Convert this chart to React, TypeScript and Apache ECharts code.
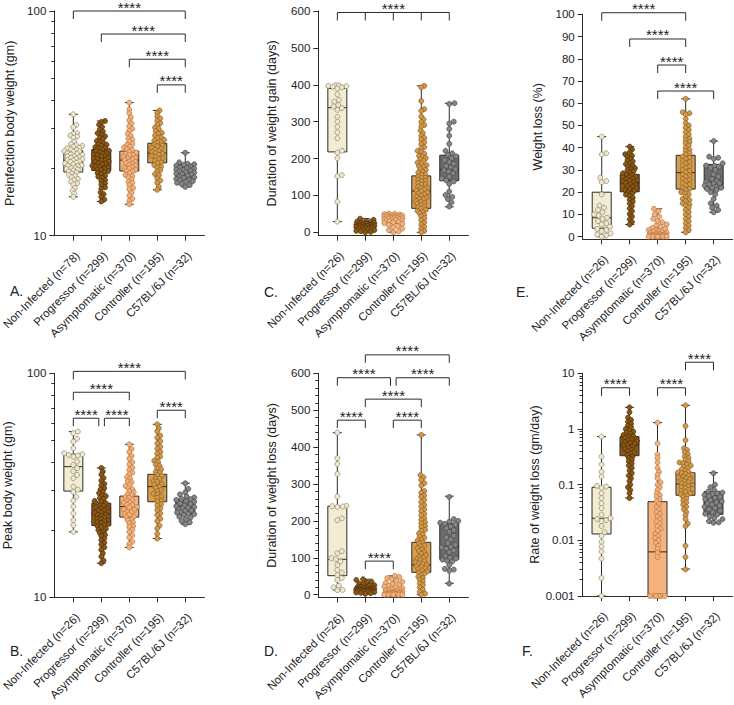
import React, { useEffect, useRef } from 'react';
import * as echarts from 'echarts';

const FONT = '"Liberation Sans", Arial, Helvetica, sans-serif';

// ---------- categories ----------
const categories = ['Non-Infected', 'Progressor', 'Asymptomatic', 'Controller', 'C57BL/6J'];
const countsPreinfection = [78, 299, 370, 195, 32];
const countsOther = [26, 299, 370, 195, 32];

// ---------- tick values ----------
const logMajor10to100 = [10, 100];
const logMinor10to100 = [20, 30, 40, 50, 60, 70, 80, 90];
const logMajorRate = [0.001, 0.01, 0.1, 1, 10];
const logMinorRate = [0.002, 0.003, 0.004, 0.005, 0.006, 0.007, 0.008, 0.009, 0.02, 0.03, 0.04, 0.05, 0.06, 0.07, 0.08, 0.09, 0.2, 0.3, 0.4, 0.5, 0.6, 0.7, 0.8, 0.9, 2, 3, 4, 5, 6, 7, 8, 9];
const daysMajor = [0, 100, 200, 300, 400, 500, 600];
const daysMinor = [20, 40, 60, 80, 120, 140, 160, 180, 220, 240, 260, 280, 320, 340, 360, 380, 420, 440, 460, 480, 520, 540, 560, 580];
const percentMajor = [0, 10, 20, 30, 40, 50, 60, 70, 80, 90, 100];

// ---------- box statistics [min, q1, median, q3, max] ----------
const boxPreinfection = [[14.9, 19.2, 21.7, 23.9, 34.7], [14.2, 19.5, 21.9, 24.2, 32.4], [13.8, 19.4, 21.7, 23.8, 39.1], [16.0, 21.1, 23.3, 25.8, 36.1], [16.5, 17.7, 19.2, 20.8, 23.4]];
const boxGainDuration = [[29, 218, 338, 390, 399], [0, 9, 16, 24, 37], [0, 24, 37, 46, 51], [0, 65, 112, 153, 397], [69, 140, 170, 209, 350]];
const boxWeightLoss = [[0, 3.8, 8.5, 20, 45], [5.5, 20.2, 24.3, 28, 40.5], [0, 0, 0.5, 2, 12.5], [2, 21.4, 28.8, 36.6, 62], [11, 21.5, 24.1, 32.5, 43]];
const boxPeak = [[19.6, 29.8, 38.3, 43.5, 54.9], [14.2, 20.9, 23.7, 26.3, 37.8], [16.7, 22.8, 25.4, 28.3, 48.2], [18.3, 26.7, 31.2, 35.4, 59.2], [21.2, 23.5, 25.1, 27.4, 32.3]];
const boxLossDuration = [[12.7, 51.5, 96, 240, 439], [2, 8, 12, 18, 42], [0, 0, 3, 12, 51], [0, 60.6, 80.5, 142, 433], [31, 96, 130, 193.5, 267]];
const boxLossRate = [[0.001, 0.013, 0.0249, 0.0896, 0.728], [0.0575, 0.331, 0.515, 0.728, 2.45], [0.001, 0.001, 0.0062, 0.0494, 1.3], [0.00305, 0.0644, 0.1027, 0.164, 2.66], [0.0207, 0.0293, 0.046, 0.0748, 0.164]];

// ---------- individual points (read/estimated) ----------
// A. Preinfection body weight (gm)
const aNonInfected = [34.7, 31.1, 30.4, 28.6, 28.4, 27.9, 27.6, 27.3, 26.2, 25.6, 25.3, 25.1, 24.9, 24.6, 24.5, 24.2, 24.1, 23.8, 23.7, 23.6, 23.3, 23.1, 23, 22.9, 22.6, 22.5, 22.4, 22.2, 22, 21.9, 21.7, 21.6, 21.4, 21.3, 21.1, 21, 20.8, 20.6, 20.5, 20.4, 20.1, 20, 19.8, 19.7, 19.5, 19.3, 19.1, 18.9, 18.6, 18.5, 18.2, 17.9, 17.7, 17.4, 17.1, 16.9, 16.3, 15.9, 15.4, 14.9];
const aProgressor = [32.4, 32.1, 31.2, 30.5, 29.7, 29.1, 28.6, 28.2, 27.7, 27.3, 26.9, 26.4, 26.2, 25.8, 25.5, 25.4, 25.1, 24.8, 24.6, 24.4, 24.2, 23.9, 23.8, 23.6, 23.3, 23.2, 22.9, 22.8, 22.6, 22.5, 22.2, 22.1, 21.9, 21.7, 21.6, 21.4, 21.3, 21, 20.9, 20.8, 20.5, 20.4, 20.2, 20.1, 19.9, 19.7, 19.6, 19.4, 19.2, 19, 18.8, 18.5, 18.3, 18.1, 17.7, 17.5, 17.1, 16.9, 16.4, 16.2, 15.6, 15.3, 14.9, 14.5, 14.2];
const aAsymptomatic = [39.1, 36.4, 35.1, 33.6, 32.6, 31.6, 30.7, 29.9, 29.3, 28.4, 27.8, 27.1, 26.7, 26.2, 25.6, 25.4, 24.9, 24.7, 24.3, 24.1, 23.6, 23.4, 23.1, 22.9, 22.8, 22.4, 22.2, 22.1, 21.8, 21.7, 21.4, 21.3, 21, 20.9, 20.6, 20.5, 20.2, 20, 19.9, 19.6, 19.4, 19.3, 19, 18.6, 18.4, 18.2, 17.8, 17.4, 17.2, 16.8, 16.3, 16.1, 15.5, 15.1, 14.6, 14.3, 13.8];
const aController = [36.1, 35.2, 33.9, 33.3, 32.5, 31.7, 31.1, 30.3, 29.9, 29.2, 28.7, 28.4, 27.9, 27.4, 27.2, 26.7, 26.5, 26.1, 25.9, 25.4, 25.2, 25, 24.6, 24.4, 24.1, 23.8, 23.6, 23.3, 23.1, 22.9, 22.6, 22.4, 22.1, 21.9, 21.6, 21.2, 21, 20.6, 20.3, 20.1, 19.6, 19.3, 18.8, 18.6, 18, 17.6, 17.2, 16.5, 16];
const aC57 = [23.4, 21.2, 20.9, 20.8, 20.7, 20.5, 20.3, 20.1, 20, 19.9, 19.7, 19.6, 19.5, 19.3, 19.2, 19.1, 18.9, 18.8, 18.7, 18.5, 18.3, 18.2, 18.1, 17.9, 17.8, 17.7, 17.5, 17.4, 17.2, 17, 16.8, 16.5];

// C. Duration of weight gain (days)
const cNonInfected = [399, 398, 397, 396, 395, 393, 390, 374, 359, 354, 345, 341, 337, 332, 313, 300, 286, 271, 255, 221, 216, 201, 155, 152, 83, 29];
const cProgressor = [37, 34, 31, 29, 28, 26, 25, 24, 23, 22, 21, 20, 20, 19, 18, 18, 17, 17, 16, 15, 15, 14, 13, 12, 12, 11, 10, 9, 8, 7, 6, 4, 3, 1, 0];
const cAsymptomatic = [51, 50, 49, 48, 47, 46, 45, 45, 44, 43, 43, 42, 41, 40, 40, 39, 38, 38, 37, 36, 35, 34, 33, 32, 31, 30, 28, 27, 25, 23, 20, 17, 14, 10, 6, 2, 0];
const cController = [397, 393, 356, 334, 329, 314, 306, 299, 291, 287, 276, 269, 261, 256, 251, 244, 239, 231, 227, 221, 218, 213, 207, 205, 201, 198, 194, 189, 187, 182, 179, 177, 171, 169, 164, 162, 157, 156, 151, 148, 147, 142, 139, 138, 133, 130, 129, 124, 121, 120, 116, 113, 111, 108, 105, 103, 99, 97, 94, 91, 90, 85, 83, 79, 77, 74, 70, 68, 64, 61, 58, 55, 51, 47, 43, 38, 33, 27, 21, 15, 9, 4, 0];
const cC57 = [350, 348, 300, 295, 280, 262, 240, 221, 214, 210, 206, 201, 196, 190, 186, 180, 176, 171, 168, 165, 160, 151, 146, 141, 138, 131, 111, 101, 96, 90, 81, 70];

// E. Weight loss (%)
const eNonInfected = [45, 37.5, 37, 26.5, 25, 24.5, 19, 14, 13, 12, 11, 10, 9.5, 8.5, 8, 7, 6, 5.5, 4.5, 3.5, 3, 2.5, 1.5, 1, 0.5, 0];
const eProgressor = [40.5, 39.2, 38, 37.1, 36.4, 35.8, 35, 34.3, 33.9, 33, 32.6, 31.9, 31.4, 30.8, 30.5, 29.9, 29.4, 28.8, 28.5, 27.9, 27.6, 27.1, 26.7, 26.1, 25.8, 25.2, 24.9, 24.4, 24.1, 23.6, 23.3, 22.7, 22.4, 21.8, 21.5, 20.9, 20.6, 20, 19.4, 18.9, 18.3, 17.5, 16.6, 15.8, 14.9, 13.8, 12.7, 11.5, 10.2, 9.1, 7.8, 6.6, 5.5];
const eAsymptomatic = [12.5, 11.5, 10, 9, 8, 7, 6.5, 5.5, 5, 4.5, 4, 3.5, 3, 2.8, 2.5, 2.2, 2, 1.8, 1.6, 1.4, 1.2, 1, 1, 0.8, 0.8, 0.6, 0.6, 0.5, 0.4, 0.4, 0.3, 0.2, 0.2, 0.1, 0.1, 0, 0, 0, 0, 0];
const eController = [62, 56, 55.5, 55, 53, 51, 50, 49, 48, 47, 46, 45, 44, 43.5, 42.5, 42, 41, 40, 39, 38.5, 37.5, 37, 36, 35.5, 35, 34, 33.5, 33, 32, 31.5, 31, 30, 29.5, 29, 28, 27.5, 27, 26, 25.5, 25, 24, 23.5, 23, 22, 21.5, 21, 20, 19.5, 19, 18, 17, 16.5, 16, 15, 14.5, 14, 13, 12, 11, 10, 9, 8, 7, 6, 5, 4, 3, 2];
const eC57 = [43, 36, 35.5, 35, 33, 32, 32, 31.5, 31, 30, 28, 27, 26, 25, 24.5, 24, 24, 23.5, 23, 22.5, 22, 22, 21.5, 21, 20, 19, 17, 15, 14, 13, 12, 11];

// B. Peak body weight (gm)
const bNonInfected = [54.9, 54, 51, 49.5, 46.3, 44, 43.5, 43.2, 43, 42.5, 40.3, 39, 37.7, 36.5, 35.2, 34, 31.2, 30.2, 29.5, 28.1, 27, 25.4, 23.7, 22.1, 21, 19.6];
const bProgressor = [37.8, 36.4, 35.3, 34.1, 33.2, 32.1, 31.6, 30.7, 30.3, 29.5, 29.2, 28.5, 28.3, 27.7, 27.5, 26.9, 26.8, 26.3, 26.1, 25.7, 25.6, 25.2, 25, 24.9, 24.5, 24.4, 24.1, 23.9, 23.8, 23.4, 23.3, 23.1, 22.8, 22.7, 22.4, 22.3, 22, 21.9, 21.6, 21.5, 21.2, 21.1, 20.8, 20.6, 20.2, 20, 19.6, 19.4, 19, 18.8, 18.3, 18, 17.5, 17.2, 16.7, 16.3, 15.7, 15.2, 14.6, 14.2];
const bAsymptomatic = [48.2, 45.9, 44.6, 42.8, 41.6, 40.1, 39.2, 37.9, 37.1, 36, 35.4, 34.4, 33.9, 33, 32.6, 31.8, 31.4, 30.7, 30.4, 29.7, 29.4, 28.8, 28.6, 28, 27.8, 27.2, 27, 26.5, 26.4, 25.9, 25.8, 25.3, 25.2, 24.7, 24.6, 24.1, 24, 23.5, 23.4, 22.9, 22.8, 22.3, 22.1, 21.6, 21.4, 20.8, 20.6, 20, 19.6, 18.9, 18.5, 17.7, 17.3, 16.7];
const bController = [59.2, 56.8, 55.1, 52.7, 51.6, 49.8, 48.6, 47, 46.1, 44.6, 43.8, 42.5, 41.9, 40.7, 40.2, 39.1, 38.6, 37.6, 37.2, 36.3, 36, 35.1, 34.8, 34, 33.8, 33, 32.8, 32, 31.8, 31.1, 30.8, 30.1, 29.8, 29, 28.8, 28.1, 27.8, 27, 26.8, 26, 25.7, 24.9, 24.5, 23.7, 23.3, 22.4, 21.9, 20.9, 20.3, 19.2, 18.3];
const bC57 = [32.3, 30.5, 29.4, 28.8, 28.1, 27.9, 27.5, 27.4, 27.2, 26.9, 26.7, 26.3, 26.1, 25.7, 25.5, 25.3, 25.1, 24.9, 24.7, 24.4, 24.3, 24, 23.9, 23.6, 23.5, 23.3, 22.9, 22.7, 22.3, 21.9, 21.6, 21.2];

// D. Duration of weight loss (days)
const dNonInfected = [439, 370, 354, 327, 266, 241, 240, 239, 238, 207, 202, 118, 112, 99, 96, 90, 80, 67, 60, 53, 45, 40, 24, 20, 13, 12];
const dProgressor = [42, 40, 36, 33, 30, 28, 26, 24, 22, 21, 20, 19, 18, 17, 16, 16, 15, 15, 14, 14, 13, 13, 12, 12, 12, 11, 11, 11, 10, 10, 10, 9, 9, 8, 8, 7, 6, 5, 4, 2];
const dAsymptomatic = [51, 48, 45, 42, 38, 35, 32, 29, 26, 24, 22, 20, 18, 16, 14, 12, 11, 10, 9, 8, 7, 6, 5, 5, 4, 4, 3, 3, 3, 2, 2, 2, 1, 1, 1, 0, 0, 0, 0, 0];
const dController = [433, 324, 318, 311, 302, 296, 281, 276, 269, 265, 257, 251, 243, 239, 231, 227, 219, 215, 207, 203, 196, 193, 186, 183, 176, 173, 166, 163, 157, 154, 149, 147, 141, 139, 133, 131, 126, 123, 118, 115, 111, 107, 103, 100, 97, 94, 91, 88, 85, 83, 80, 77, 75, 72, 69, 66, 63, 60, 57, 53, 49, 45, 41, 36, 31, 26, 20, 14, 8, 3, 0];
const dC57 = [265, 205, 200, 198, 195, 192, 190, 185, 180, 175, 170, 160, 155, 150, 140, 135, 130, 128, 125, 120, 115, 105, 100, 98, 95, 92, 90, 80, 70, 68, 65, 30];

// F. Rate of weight loss (gm/day)
const fNonInfected = [0.73, 0.32, 0.23, 0.17, 0.14, 0.095, 0.092, 0.088, 0.07, 0.057, 0.046, 0.038, 0.029, 0.025, 0.024, 0.023, 0.022, 0.018, 0.014, 0.012, 0.0094, 0.0077, 0.0063, 0.0047, 0.0021, 0.001];
const fProgressor = [2.45, 2.0, 1.6, 1.45, 1.35, 1.25, 1.15, 1.08, 1.0, 0.95, 0.9, 0.86, 0.82, 0.78, 0.75, 0.72, 0.69, 0.66, 0.63, 0.6, 0.58, 0.56, 0.54, 0.52, 0.5, 0.48, 0.46, 0.44, 0.42, 0.4, 0.38, 0.36, 0.34, 0.32, 0.3, 0.28, 0.26, 0.24, 0.22, 0.2, 0.18, 0.16, 0.145, 0.13, 0.115, 0.1, 0.09, 0.08, 0.07, 0.0575];
const fAsymptomatic = [1.3, 0.55, 0.35, 0.3, 0.25, 0.2, 0.17, 0.15, 0.13, 0.11, 0.1, 0.09, 0.08, 0.07, 0.065, 0.06, 0.055, 0.05, 0.045, 0.04, 0.036, 0.032, 0.03, 0.027, 0.024, 0.022, 0.02, 0.018, 0.016, 0.015, 0.013, 0.012, 0.011, 0.01, 0.009, 0.008, 0.007, 0.006, 0.005, 0.001, 0.001, 0.001, 0.001, 0.001, 0.001, 0.001];
const fController = [2.66, 1.13, 0.63, 0.45, 0.42, 0.38, 0.35, 0.32, 0.3, 0.28, 0.26, 0.25, 0.24, 0.23, 0.22, 0.21, 0.2, 0.19, 0.18, 0.17, 0.165, 0.16, 0.155, 0.15, 0.145, 0.14, 0.135, 0.13, 0.125, 0.12, 0.115, 0.11, 0.105, 0.1, 0.097, 0.094, 0.09, 0.087, 0.084, 0.08, 0.077, 0.074, 0.07, 0.067, 0.064, 0.06, 0.056, 0.052, 0.048, 0.044, 0.04, 0.036, 0.032, 0.028, 0.024, 0.02, 0.018, 0.008, 0.005, 0.003];
const fC57 = [0.16, 0.1, 0.09, 0.08, 0.075, 0.072, 0.07, 0.068, 0.065, 0.062, 0.06, 0.058, 0.055, 0.052, 0.05, 0.048, 0.046, 0.044, 0.042, 0.04, 0.038, 0.036, 0.034, 0.032, 0.03, 0.029, 0.027, 0.025, 0.024, 0.022, 0.021, 0.0207];

// ---------- significance brackets [fromCat, toCat, level, ticksAtEveryCategory] ----------
const bracketsA = [[0, 4, 100, 0], [1, 4, 79, 0], [2, 4, 61, 0], [3, 4, 46.9, 0]];
const bracketsC = [[0, 4, 596, 1]];
const bracketsE = [[0, 3, 100.7, 0], [1, 3, 88.9, 0], [2, 3, 77.2, 0], [2, 4, 65.5, 0]];
const bracketsB = [[0, 4, 102, 0], [0, 2, 82.3, 0], [0, 0.91, 63, 0], [1.11, 2, 63, 0], [3, 4, 68.4, 0]];
const bracketsD = [[1, 4, 650, 0], [0, 1.9, 588, 0], [2.1, 4, 588, 0], [1, 3, 530, 0], [0, 1, 473, 0], [2, 3, 473, 0], [1, 2, 91, 0]];
const bracketsF = [[0, 1, 5.5, 0], [2, 3, 5.5, 0], [3, 4, 15.8, 0]];

// ---------- styles ----------
const boxFill = ['#F2ECD3', '#8E5916', '#F4B37C', '#D69E4E', '#6C6C6C'];
const ptFill = ['#EFE8CE', '#8A5716', '#F2B07A', '#D1984A', '#858585'];
const ptStroke = ['#8E8870', '#4A2E08', '#B57640', '#8A5E22', '#474747'];
const INK = '#2b2b2b';

const X_MIN = -0.68;
const X_MAX = 4.68;
const GRID_W = 150;
const PX_PER_X = GRID_W / (X_MAX - X_MIN);
const LABEL_SHIFT = 0.15;

type Panel = {
  letter: string; lx: number; ly: number;
  left: number; top: number; height: number;
  log: boolean; yMin: number; yMax: number;
  title: string; nameGap: number;
  counts: number[]; box: number[][]; points: number[][]; brackets: number[][];
  major: number[]; minor: number[];
};

const panels: Panel[] = [
  { letter: 'A.', lx: 10, ly: 284, left: 54.3, top: 11, height: 224.7, log: true, yMin: 10, yMax: 100,
    title: 'Preinfection body weight (gm)', nameGap: 38, counts: countsPreinfection, box: boxPreinfection,
    points: [aNonInfected, aProgressor, aAsymptomatic, aController, aC57], brackets: bracketsA,
    major: logMajor10to100, minor: logMinor10to100 },
  { letter: 'C.', lx: 264, ly: 285, left: 318.3, top: 11, height: 224.7, log: false, yMin: -9.2, yMax: 600,
    title: 'Duration of weight gain (days)', nameGap: 40, counts: countsOther, box: boxGainDuration,
    points: [cNonInfected, cProgressor, cAsymptomatic, cController, cC57], brackets: bracketsC,
    major: daysMajor, minor: [] },
  { letter: 'E.', lx: 516, ly: 285, left: 582.7, top: 14.3, height: 225, log: false, yMin: -1.17, yMax: 100,
    title: 'Weight loss (%)', nameGap: 38, counts: countsOther, box: boxWeightLoss,
    points: [eNonInfected, eProgressor, eAsymptomatic, eController, eC57], brackets: bracketsE,
    major: percentMajor, minor: [] },
  { letter: 'B.', lx: 10, ly: 644, left: 54.3, top: 373.3, height: 224, log: true, yMin: 10, yMax: 100,
    title: 'Peak body weight (gm)', nameGap: 40, counts: countsOther, box: boxPeak,
    points: [bNonInfected, bProgressor, bAsymptomatic, bController, bC57], brackets: bracketsB,
    major: logMajor10to100, minor: logMinor10to100 },
  { letter: 'D.', lx: 264, ly: 644, left: 318.3, top: 373.3, height: 224.2, log: false, yMin: -7.6, yMax: 600,
    title: 'Duration of weight loss (days)', nameGap: 40, counts: countsOther, box: boxLossDuration,
    points: [dNonInfected, dProgressor, dAsymptomatic, dController, dC57], brackets: bracketsD,
    major: daysMajor, minor: daysMinor },
  { letter: 'F.', lx: 522, ly: 644, left: 582.5, top: 373.3, height: 222.7, log: true, yMin: 0.001, yMax: 10,
    title: 'Rate of weight loss (gm/day)', nameGap: 37, counts: countsOther, box: boxLossRate,
    points: [fNonInfected, fProgressor, fAsymptomatic, fController, fC57], brackets: bracketsF,
    major: logMajorRate, minor: logMinorRate },
];

function toPx(p: Panel, v: number): number {
  const frac = p.log
    ? (Math.log10(v) - Math.log10(p.yMin)) / (Math.log10(p.yMax) - Math.log10(p.yMin))
    : (v - p.yMin) / (p.yMax - p.yMin);
  return p.top + p.height * (1 - frac);
}

// beeswarm layout: horizontal offsets (px) so that dots do not pile up
function swarmOffsets(values: number[], ypx: (v: number) => number, spacing: number, maxHalf: number): number[] {
  const order = values.map((_, i) => i).sort((a, b) => values[a] - values[b]);
  const cands: number[] = [0];
  for (let s = 0.75; s <= maxHalf + 1e-9; s += 0.75) { cands.push(s, -s); }
  const placed: { x: number; y: number }[] = [];
  const out = new Array(values.length).fill(0);
  for (const idx of order) {
    const y = ypx(values[idx]);
    let chosen = 0; let bestScore = -1; let found = false;
    for (const c of cands) {
      let minD = Infinity;
      for (const q of placed) {
        const dy = q.y - y;
        if (Math.abs(dy) >= spacing) continue;
        const d = Math.hypot(q.x - c, dy);
        if (d < minD) minD = d;
      }
      if (minD >= spacing) { chosen = c; found = true; break; }
      if (minD > bestScore) { bestScore = minD; chosen = c; }
    }
    if (!found && bestScore < 0) chosen = 0;
    placed.push({ x: chosen, y });
    out[idx] = chosen;
  }
  return out;
}

function fmtNum(v: number): string {
  return String(Number(Number(v).toPrecision(6)));
}

function buildOption() {
  const grid: any[] = [];
  const xAxis: any[] = [];
  const yAxis: any[] = [];
  const series: any[] = [];
  const graphic: any[] = [];

  panels.forEach((p, gi) => {
    grid.push({ left: p.left, top: p.top, width: GRID_W, height: p.height, containLabel: false, outerBoundsMode: 'none' });
    xAxis.push({
      gridIndex: gi, type: 'value', min: X_MIN, max: X_MAX,
      axisLine: { show: true, onZero: false, lineStyle: { color: INK, width: 1 } },
      axisTick: { show: true, length: 5, customValues: [0, 1, 2, 3, 4], lineStyle: { color: INK, width: 1 } },
      axisLabel: {
        customValues: [0, 1, 2, 3, 4].map((k) => k + LABEL_SHIFT), rotate: 45, margin: 18, fontSize: 11.5, color: '#222', fontFamily: FONT,
        formatter: (v: number) => `${categories[Math.round(v)]} (n=${p.counts[Math.round(v)]})`,
      },
      splitLine: { show: false },
    });
    const yType = p.log ? 'log' : 'value';
    yAxis.push({
      gridIndex: gi, type: yType, logBase: 10, min: p.yMin, max: p.yMax, position: 'left',
      axisLine: { show: true, onZero: false, lineStyle: { color: INK, width: 1 } },
      axisTick: { show: true, length: 5, customValues: p.major, lineStyle: { color: INK, width: 1 } },
      axisLabel: { customValues: p.major, margin: 8, fontSize: 11.5, color: '#222', fontFamily: FONT, formatter: (v: number) => fmtNum(v) },
      splitLine: { show: false },
      name: p.title, nameLocation: 'middle', nameGap: p.nameGap,
      nameTextStyle: { fontSize: 12.5, color: '#222', fontFamily: FONT },
    });
    yAxis.push({
      gridIndex: gi, type: yType, logBase: 10, min: p.yMin, max: p.yMax, position: 'left', offset: 0,
      axisLine: { show: false, onZero: false },
      axisTick: p.minor.length
        ? { show: true, length: 3, customValues: p.minor, lineStyle: { color: INK, width: 1 } }
        : { show: false },
      axisLabel: { show: false },
      splitLine: { show: false },
    });

    // boxes + whiskers
    series.push({
      type: 'custom', xAxisIndex: gi, yAxisIndex: gi * 2, clip: false, z: 2, silent: true,
      data: p.box.map((b, i) => [i, ...b]),
      encode: { x: 0, y: [1, 2, 3, 4, 5] },
      renderItem: (params: any, api: any) => {
        const i = api.value(0);
        const c = (k: number) => api.coord([i, api.value(k)]);
        const pMin = c(1), pQ1 = c(2), pMed = c(3), pQ3 = c(4), pMax = c(5);
        const x = pMin[0];
        const hw = 9.5, cw = 4.5;
        const ln = (x1: number, y1: number, x2: number, y2: number) => ({
          type: 'line', shape: { x1, y1, x2, y2 }, style: { stroke: INK, lineWidth: 1 },
        });
        return {
          type: 'group',
          children: [
            ln(x, pMax[1], x, pQ3[1]),
            ln(x, pQ1[1], x, pMin[1]),
            ln(x - cw, pMax[1], x + cw, pMax[1]),
            ln(x - cw, pMin[1], x + cw, pMin[1]),
            {
              type: 'rect',
              shape: { x: x - hw, y: pQ3[1], width: 2 * hw, height: Math.max(0.5, pQ1[1] - pQ3[1]) },
              style: { fill: boxFill[params.dataIndex], stroke: INK, lineWidth: 1 },
            },
            ln(x - hw, pMed[1], x + hw, pMed[1]),
          ],
        };
      },
    });

    // dots
    p.points.forEach((vals, k) => {
      const spacing = vals.length > 40 ? 3.3 : 4.6;
      const offs = swarmOffsets(vals, (v) => toPx(p, v), spacing, 9);
      series.push({
        type: 'scatter', xAxisIndex: gi, yAxisIndex: gi * 2, clip: false, z: 3, silent: true,
        symbol: 'circle', symbolSize: 5,
        itemStyle: { color: ptFill[k], borderColor: ptStroke[k], borderWidth: 0.7, opacity: 1 },
        data: vals.map((v, j) => [k + offs[j] / PX_PER_X, v]),
      });
    });

    // brackets
    series.push({
      type: 'custom', xAxisIndex: gi, yAxisIndex: gi * 2, clip: false, z: 4, silent: true,
      data: p.brackets,
      encode: { x: 0, y: 2 },
      renderItem: (_params: any, api: any) => {
        const x1 = api.value(0), x2 = api.value(1), lvl = api.value(2), all = api.value(3);
        const a = api.coord([x1, lvl]);
        const b = api.coord([x2, lvl]);
        const y = a[1];
        const T = 8;
        const children: any[] = [
          { type: 'polyline', shape: { points: [[a[0], y + T], [a[0], y], [b[0], y], [b[0], y + T]] },
            style: { stroke: INK, lineWidth: 1, fill: 'none' } },
        ];
        if (all) {
          for (let k = Math.floor(x1) + 1; k < x2; k++) {
            const c = api.coord([k, lvl]);
            children.push({ type: 'line', shape: { x1: c[0], y1: y, x2: c[0], y2: y + T }, style: { stroke: INK, lineWidth: 1 } });
          }
        }
        children.push({
          type: 'text', x: (a[0] + b[0]) / 2, y: y - 4,
          style: {
            text: '****', fontSize: 15, fontFamily: FONT, fill: '#222',
            align: 'center', verticalAlign: 'middle', textAlign: 'center', textVerticalAlign: 'middle',
          },
        });
        return { type: 'group', children };
      },
    });

    graphic.push({
      type: 'text', x: p.lx, y: p.ly,
      style: { text: p.letter, fontSize: 14, fontFamily: FONT, fill: '#222' },
    });
  });

  return { animation: false, backgroundColor: '#ffffff', grid, xAxis, yAxis, series, graphic };
}

export default function App() {
  const ref = useRef<HTMLDivElement>(null);
  useEffect(() => {
    const el = ref.current!;
    const chart = echarts.init(el, null, { renderer: 'svg' });
    chart.setOption(buildOption() as any);
    return () => { chart.dispose(); };
  }, []);
  return (
    <div
      ref={ref}
      style={{ position: 'fixed', left: 0, top: 0, width: 734, height: 705, background: '#fff' }}
    />
  );
}
